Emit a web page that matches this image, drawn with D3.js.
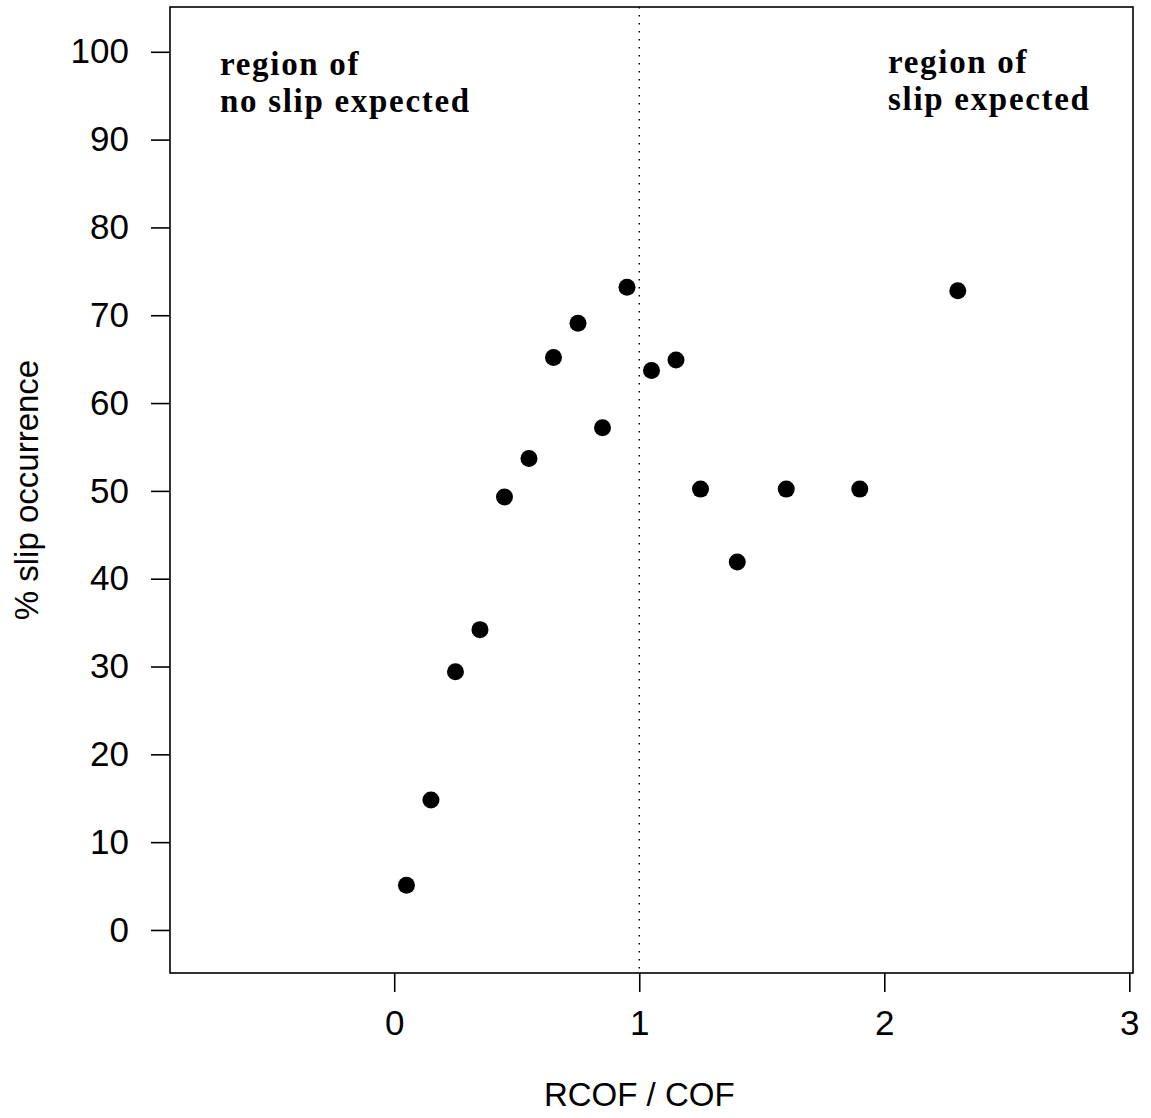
<!DOCTYPE html>
<html>
<head>
<meta charset="utf-8">
<script src="https://cdn.jsdelivr.net/npm/d3@7"></script>
<style>
  body { margin: 0; background: #fff; }
  .axis text { font-family: "Liberation Sans", Arial, sans-serif; font-size: 35px; fill: #000; }
  .axis path, .axis line { stroke: #000; stroke-width: 1.6; }
</style>
</head>
<body>
<svg id="chart"></svg>
<script>
// Data
const ratio = [0.05, 0.15, 0.25, 0.35, 0.45, 0.55, 0.65, 0.75, 0.85, 0.95, 1.05, 1.15, 1.25, 1.4, 1.6, 1.9, 2.3];
const slipPct = [5.1, 14.8, 29.4, 34.2, 49.3, 53.7, 65.2, 69.1, 57.2, 73.2, 63.7, 64.9, 50.2, 41.9, 50.2, 50.2, 72.8];
const xTicks = [0, 1, 2, 3];
const yTicks = [0, 10, 20, 30, 40, 50, 60, 70, 80, 90, 100];
const threshold = 1;

const points = ratio.map((r, i) => ({ x: r, y: slipPct[i] }));

// Set up SVG dimensions
const W = 1151, H = 1118;
const margin = { top: 7, right: 18, bottom: 145, left: 170 };
const width = W - margin.left - margin.right;
const height = H - margin.top - margin.bottom;

const svg = d3.select("#chart")
    .attr("width", W)
    .attr("height", H);

const g = svg.append("g")
    .attr("transform", "translate(" + margin.left + "," + margin.top + ")");

// Scales
const x = d3.scaleLinear()
    .domain([-0.915, 3.015])
    .range([0, width]);

const y = d3.scaleLinear()
    .domain([-4.9, 105.1])
    .range([height, 0]);

// Frame
g.append("rect")
    .attr("width", width)
    .attr("height", height)
    .attr("fill", "none")
    .attr("stroke", "#000")
    .attr("stroke-width", 1.6);

// Axes
g.append("g")
    .attr("class", "axis")
    .attr("transform", "translate(0," + height + ")")
    .call(d3.axisBottom(x).tickValues(xTicks).tickFormat(d3.format("d"))
        .tickSize(19).tickPadding(18).tickSizeOuter(0))
    .call(s => s.select(".domain").remove());

g.append("g")
    .attr("class", "axis")
    .call(d3.axisLeft(y).tickValues(yTicks).tickFormat(d3.format("d"))
        .tickSize(19).tickPadding(22).tickSizeOuter(0))
    .call(s => s.select(".domain").remove());

// Threshold line
g.append("line")
    .attr("x1", x(threshold))
    .attr("x2", x(threshold))
    .attr("y1", 0)
    .attr("y2", height)
    .attr("stroke", "#000")
    .attr("stroke-width", 1.5)
    .attr("stroke-dasharray", "1.5,6.5");

// Points
g.selectAll(".dot")
    .data(points)
    .enter().append("circle")
    .attr("class", "dot")
    .attr("cx", d => x(d.x))
    .attr("cy", d => y(d.y))
    .attr("r", 8.5)
    .attr("fill", "#000");

// Region labels
function regionLabel(px, py, lines) {
    const t = g.append("text")
        .attr("x", px)
        .attr("y", py)
        .style("font-family", "'Liberation Serif', 'Times New Roman', serif")
        .style("font-size", "33px")
        .style("font-weight", "bold")
        .style("letter-spacing", "1.7px");
    lines.forEach((line, i) => {
        t.append("tspan")
            .attr("x", px)
            .attr("dy", i === 0 ? 0 : 37)
            .text(line);
    });
}
regionLabel(50, 68, ["region of", "no slip expected"]);
regionLabel(718, 66, ["region of", "slip expected"]);

// Axis titles
svg.append("text")
    .attr("x", x(1) + margin.left)
    .attr("y", 1106)
    .attr("text-anchor", "middle")
    .style("font-family", "'Liberation Sans', Arial, sans-serif")
    .style("font-size", "33px")
    .text("RCOF / COF");

svg.append("text")
    .attr("transform", "translate(38," + 490 + ") rotate(-90)")
    .attr("text-anchor", "middle")
    .style("font-family", "'Liberation Sans', Arial, sans-serif")
    .style("font-size", "33px")
    .text("% slip occurrence");
</script>
</body>
</html>
